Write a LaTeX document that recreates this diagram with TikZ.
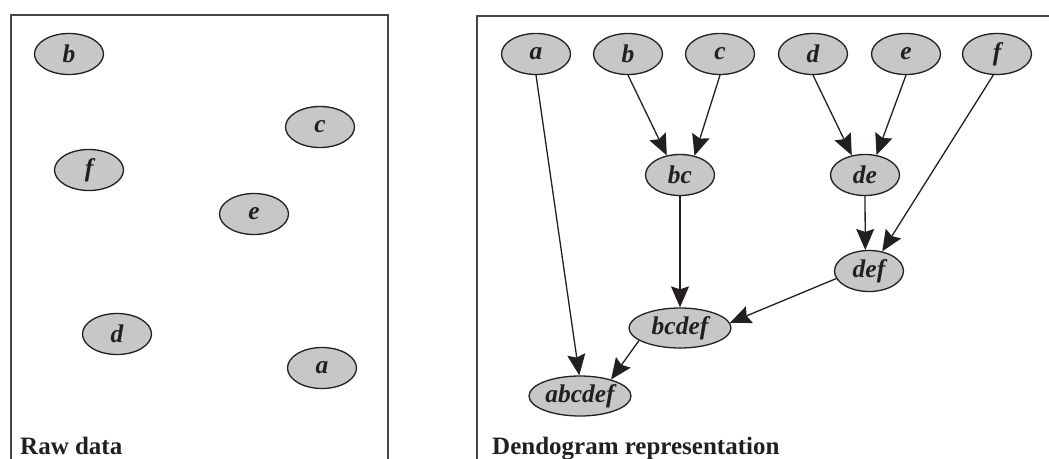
\documentclass[tikz,border=0pt]{standalone}
\usepackage{fontspec}
\setmainfont{Liberation Serif}
\usetikzlibrary{arrows.meta,shapes.geometric}
\definecolor{nodefill}{RGB}{198,200,200}
\definecolor{inkdark}{RGB}{35,31,32}
\definecolor{framegray}{RGB}{70,70,70}
\begin{document}
\begin{tikzpicture}[x=1pt,y=-1pt,
  item/.style={ellipse,draw=inkdark,fill=nodefill,line width=1.3pt,inner sep=0pt,
    minimum width=69pt,minimum height=41pt,
    font=\fontsize{25.5}{27}\selectfont\bfseries\itshape,text=inkdark},
  wideitem/.style={item,minimum width=102pt,minimum height=40pt},
  link/.style={draw=inkdark,line width=1.3pt,
    -{Stealth[length=21pt,width=18pt,inset=3pt]}},
  frame/.style={draw=framegray,line width=1.6pt},
  caption/.style={anchor=base west,inner sep=0pt,
    font=\fontsize{25}{27}\selectfont\bfseries,text=inkdark}]
\useasboundingbox (0,0) rectangle (1049,458);

% panel frames (open at the bottom / right)
\draw[frame] (11,460) -- (11,15) -- (388,15) -- (388,460);
\draw[frame] (477,460) -- (477,16) -- (1051,16);

% raw data points
\node[item] (rb) at (69,54)   {b};
\node[item] (rc) at (320,127) {c};
\node[item] (rf) at (89,170)  {f};
\node[item] (re) at (254,214) {e};
\node[item] (rd) at (117,334) {d};
\node[item] (ra) at (322,368) {a};
\node[caption] (rawlabel) at (20,454) {Raw data};

% dendogram
\node[item] (a) at (536,54) {a};
\node[item] (b) at (628,54) {b};
\node[item] (c) at (720,54) {c};
\node[item] (d) at (813,54) {d};
\node[item] (e) at (906,54) {e};
\node[item] (f) at (997,54) {f};
\node[item] (bc) at (680,175) {bc};
\node[item] (de) at (865,175) {de};
\node[item] (def) at (869,271) {def};
\node[wideitem] (bcdef) at (680,328) {bcdef};
\node[wideitem] (abcdef) at (580,396) {abcdef};
\node[caption] (dendlabel) at (492,454) {Dendogram representation};

\draw[link] (b.south) -- (bc.124);
\draw[link] (c.south) -- (bc.53);
\draw[link] (d.south) -- (de.124);
\draw[link] (e.south) -- (de.60);
\draw[link] (de.south) -- (def.100);
\draw[link] (f.-100) -- (def.56);
\draw[link] (bc.south) -- (bcdef.north);
\draw[link] (def.193) -- (bcdef.6);
\draw[link] (a.south) -- (abcdef.92);
\draw[link] (bcdef.197) -- (abcdef.28);
\end{tikzpicture}
\end{document}
